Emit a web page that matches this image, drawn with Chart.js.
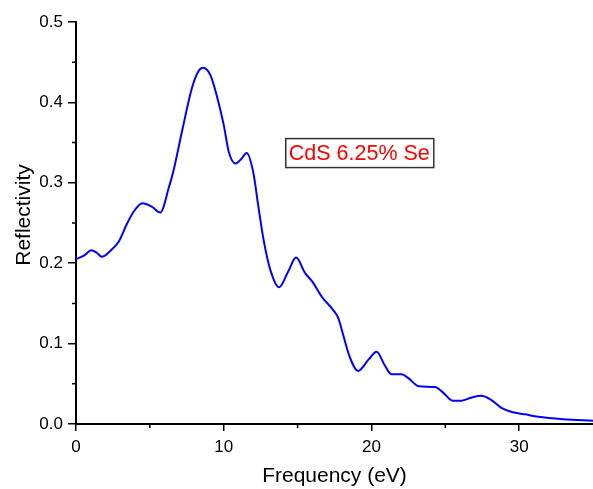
<!DOCTYPE html>
<html>
<head>
<meta charset="utf-8">
<script src="https://cdn.jsdelivr.net/npm/chart.js@4.4.0/dist/chart.umd.min.js"></script>
<style>
  html, body { margin: 0; padding: 0; background: #fff; }
  #wrap { width: 593px; height: 489px; }
</style>
</head>
<body>
<div id="wrap"><canvas id="reflChart" width="593" height="489"></canvas></div>
<script>
// values
const energy = [0, 0.5, 1.05, 1.4, 1.75, 2.3, 2.9, 3.45, 3.9, 4.5, 5.15, 5.7, 6.3, 6.6, 7.2, 7.85, 8.3, 8.6,
  9.1, 9.55, 10.0, 10.35, 10.8, 11.2, 11.55, 12.0, 12.35, 12.7, 13.15, 13.75, 14.35, 14.9, 15.5, 16.0,
  16.65, 17.4, 17.75, 18.1, 18.5, 19.1, 19.8, 20.35, 20.9, 21.35, 22.05, 22.5, 23.2, 24.3, 24.8, 25.5,
  26.1, 26.8, 27.45, 28.1, 28.8, 29.5, 30.4, 31.3, 33, 35];
const reflectivity = [0.205, 0.209, 0.216, 0.213, 0.208, 0.215, 0.227, 0.249, 0.264, 0.2745, 0.270, 0.263,
  0.295, 0.315, 0.366, 0.418, 0.439, 0.443, 0.434, 0.407, 0.372, 0.338, 0.324, 0.330, 0.337, 0.313,
  0.270, 0.229, 0.192, 0.170, 0.189, 0.207, 0.188, 0.177, 0.158, 0.142, 0.132, 0.110, 0.085, 0.066,
  0.080, 0.090, 0.073, 0.062, 0.062, 0.057, 0.047, 0.046, 0.040, 0.029, 0.029, 0.033, 0.035, 0.030,
  0.020, 0.015, 0.012, 0.009, 0.006, 0.004];
const seriesLabel = "CdS 6.25% Se";
const xTitle = "Frequency (eV)";
const yTitle = "Reflectivity";

const fontFamily = "'Liberation Sans', Arial, sans-serif";

const points = energy.map((e, i) => ({ x: e, y: reflectivity[i] }));

// short minor ticks, y title and the text box
const extras = {
  id: "extras",
  afterDraw(chart) {
    const c = chart.ctx;
    const xs = chart.scales.x, ys = chart.scales.y;
    c.save();
    c.strokeStyle = "#000";
    c.lineWidth = 1.5;
    c.beginPath();
    for (let v = 5; v < 35; v += 10) {
      const px = xs.getPixelForValue(v);
      c.moveTo(px, xs.top);
      c.lineTo(px, xs.top + 4);
    }
    for (let v = 0.05; v < 0.5; v += 0.1) {
      const py = ys.getPixelForValue(v);
      c.moveTo(ys.right, py);
      c.lineTo(ys.right - 4, py);
    }
    c.stroke();

    // y axis title, a bit above the middle like the original
    c.save();
    c.translate(24, 215);
    c.rotate(-Math.PI / 2);
    c.font = "21px " + fontFamily;
    c.fillStyle = "#000";
    c.textAlign = "center";
    c.textBaseline = "middle";
    c.fillText(yTitle, 0, 0);
    c.restore();

    // annotation box
    const bx = xs.getPixelForValue(14.2);
    const by = ys.getPixelForValue(0.355);
    c.font = "21.5px " + fontFamily;
    const w = c.measureText(seriesLabel).width;
    c.fillStyle = "#fff";
    c.fillRect(bx, by, w + 7, 29);
    c.strokeStyle = "#333";
    c.lineWidth = 1.5;
    c.strokeRect(bx, by, w + 7, 29);
    c.fillStyle = "#ff0000";
    c.textBaseline = "middle";
    c.fillText(seriesLabel, bx + 3, by + 15);
    c.restore();
  }
};

new Chart(document.getElementById("reflChart"), {
  type: "line",
  data: {
    datasets: [{
      label: seriesLabel,
      data: points,
      borderColor: "#0000ff",
      borderWidth: 2,
      pointRadius: 0,
      fill: false,
      cubicInterpolationMode: "monotone"
    }]
  },
  options: {
    responsive: false,
    animation: false,
    layout: { padding: { top: 22, right: 0, left: 0, bottom: 0 } },
    plugins: {
      legend: { display: false },
      tooltip: { enabled: false }
    },
    scales: {
      x: {
        type: "linear",
        min: 0,
        max: 35,
        afterFit(scale) { scale.height = 65; scale.paddingRight = 0; },
        border: { color: "#000", width: 2 },
        grid: {
          drawOnChartArea: false,
          tickLength: 7,
          lineWidth: 1.5,
          color: (ctx) => (ctx.tick && ctx.tick.value % 10 === 0 ? "#000" : "rgba(0,0,0,0)")
        },
        ticks: {
          stepSize: 5,
          autoSkip: false,
          maxRotation: 0,
          padding: 6,
          color: "#000",
          font: { family: fontFamily, size: 17 },
          callback: (v) => (v % 10 === 0 ? String(v) : "")
        },
        title: {
          display: true,
          text: xTitle,
          color: "#000",
          font: { family: fontFamily, size: 21 },
          padding: { top: 0, bottom: 0 }
        }
      },
      y: {
        min: 0,
        max: 0.5,
        afterFit(scale) { scale.width = 76; },
        border: { color: "#000", width: 2 },
        grid: {
          drawOnChartArea: false,
          tickLength: 8,
          lineWidth: 1.5,
          color: (ctx) => (ctx.tick && Math.round(ctx.tick.value * 20) % 2 === 0 ? "#000" : "rgba(0,0,0,0)")
        },
        ticks: {
          stepSize: 0.05,
          autoSkip: false,
          padding: 5,
          color: "#000",
          font: { family: fontFamily, size: 17 },
          callback: (v) => (Math.round(v * 20) % 2 === 0 ? v.toFixed(1) : "")
        },
        title: { display: false }
      }
    }
  },
  plugins: [extras]
});
</script>
</body>
</html>
